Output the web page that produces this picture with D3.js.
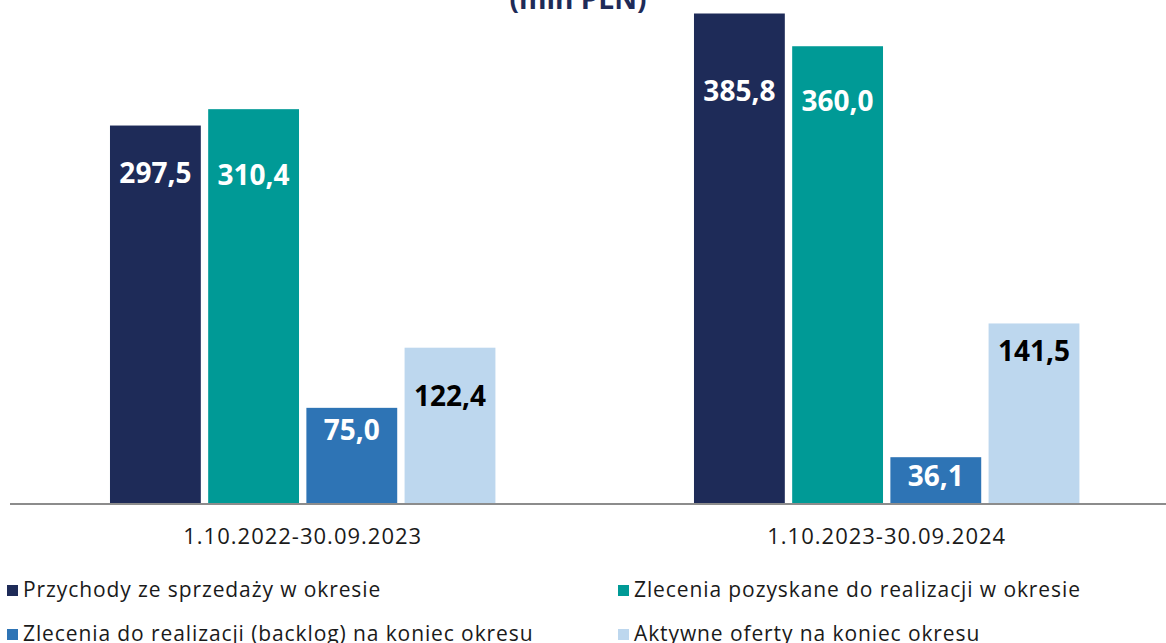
<!DOCTYPE html>
<html>
<head>
<meta charset="utf-8">
<script src="https://cdn.jsdelivr.net/npm/d3@7"></script>
<style>
  html, body { margin: 0; padding: 0; background: #fff; }
  svg { display: block; font-family: "Open Sans", sans-serif; }
</style>
</head>
<body>
<div id="chart"></div>
<script>
const periods = ["1.10.2022-30.09.2023", "1.10.2023-30.09.2024"];
const seriesNames = [
  "Przychody ze sprzedaży w okresie",
  "Zlecenia pozyskane do realizacji w okresie",
  "Zlecenia do realizacji (backlog) na koniec okresu",
  "Aktywne oferty na koniec okresu"
];
const przychody = [297.5, 385.8];
const zleceniaPozyskane = [310.4, 360.0];
const backlog = [75.0, 36.1];
const oferty = [122.4, 141.5];

// label baseline offsets below bar top (manual placement in the original)
const labelOffsets = [[57, 76, 32, 58], [87, 65, 29, 38]];

const colors = ["#1e2b58", "#009a96", "#2e74b5", "#bdd7ee"];
const labelColors = ["#fff", "#fff", "#fff", "#000"];

const width = 1166, height = 643;
const baseY = 503;

const seriesValues = [przychody, zleceniaPozyskane, backlog, oferty];
const chartData = periods.map((p, i) => ({
  period: p,
  values: seriesNames.map((s, k) => ({ key: s, k, value: seriesValues[k][i], off: labelOffsets[i][k] }))
}));

const svg = d3.select("#chart").append("svg")
  .attr("width", width)
  .attr("height", height);

// title (mostly cut off at top in the original)
svg.append("text")
  .attr("x", 578).attr("y", 9)
  .attr("text-anchor", "middle")
  .style("font-weight", 700).style("font-size", "28px")
  .style("fill", "#1e2b58")
  .text("(mln PLN)");

const x0 = d3.scaleBand()
  .domain(periods)
  .range([10.7, 1178.7])
  .paddingInner(0.34)
  .paddingOuter(0.17);

const x1 = d3.scaleBand()
  .domain(seriesNames)
  .range([0, x0.bandwidth()])
  .paddingInner(0.075)
  .paddingOuter(0);

const y = d3.scaleLinear()
  .domain([0, 385.8])
  .range([baseY, 13.5]);

const color = d3.scaleOrdinal().domain(seriesNames).range(colors);

const g = svg.append("g")
  .selectAll("g")
  .data(chartData)
  .join("g")
  .attr("transform", d => `translate(${x0(d.period)},0)`);

g.selectAll("rect")
  .data(d => d.values)
  .join("rect")
  .attr("x", d => x1(d.key))
  .attr("y", d => y(d.value))
  .attr("width", x1.bandwidth())
  .attr("height", d => y(0) - y(d.value))
  .attr("fill", d => color(d.key));

g.selectAll("text.val")
  .data(d => d.values)
  .join("text")
  .attr("class", "val")
  .attr("x", d => x1(d.key) + x1.bandwidth() / 2)
  .attr("y", d => y(d.value) + d.off)
  .attr("text-anchor", "middle")
  .style("font-weight", 700).style("font-size", "28px")
  .style("fill", d => labelColors[d.k])
  .text(d => d3.format(".1f")(d.value).replace(".", ","));

// axis
const axis = svg.append("g")
  .attr("transform", `translate(0,${baseY + 1})`)
  .call(d3.axisBottom(x0).tickSize(0).tickPadding(24));
axis.select(".domain").attr("d", "M10,0H1166").attr("stroke", "#8c8c8c").attr("stroke-width", 2);
axis.selectAll("text")
  .style("font-family", "'Open Sans', sans-serif")
  .style("font-size", "22px")
  .style("letter-spacing", "1px")
  .style("fill", "#1a1a1a");

// legend
const legendPos = [[7, 597], [618, 597], [7, 641], [618, 641]];
seriesNames.forEach((s, i) => {
  const lg = svg.append("g").attr("transform", `translate(${legendPos[i][0]},${legendPos[i][1]})`);
  lg.append("rect").attr("x", 0).attr("y", -12).attr("width", 11).attr("height", 11).attr("fill", colors[i]);
  lg.append("text").attr("x", 16).attr("y", 0)
    .style("font-size", "21px").style("letter-spacing", "0.9px").style("fill", "#1a1a1a")
    .text(s);
});
</script>
</body>
</html>
